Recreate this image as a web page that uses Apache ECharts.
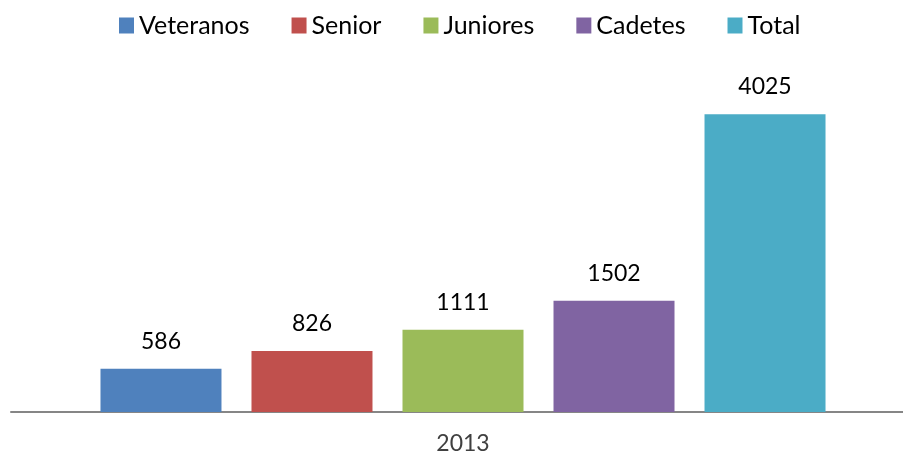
<!DOCTYPE html>
<html>
<head>
<meta charset="utf-8">
<script src="https://cdn.jsdelivr.net/npm/echarts@6/dist/echarts.min.js"></script>
<style>
  html, body { margin: 0; padding: 0; background: #fff; overflow: hidden; }
  #chart { width: 915px; height: 455px; }
</style>
</head>
<body>
<div id="chart"></div>
<script>
// datos
const categories = ["2013"];
const seriesNames = ["Veteranos", "Senior", "Juniores", "Cadetes", "Total"];
const seriesValues = [586, 826, 1111, 1502, 4025];
const colors = ["#4F81BD", "#C0504D", "#9BBB59", "#8064A2", "#4BACC6"];

const font = "Lato, 'Liberation Sans', sans-serif";
const myChart = echarts.init(document.getElementById("chart"));

const option = {
  animation: false,
  color: colors,
  legend: {
    data: seriesNames,
    top: 8,
    left: 114,
    itemWidth: 15,
    itemHeight: 16,
    itemGap: 42,
    icon: "rect",
    textStyle: { fontFamily: font, fontSize: 25, color: "#000" },
  },
  grid: {
    left: 11,
    right: 0,
    top: 79,
    bottom: 43,
  },
  xAxis: {
    type: "category",
    data: categories,
    axisLine: { lineStyle: { color: "#868686", width: 2 } },
    axisTick: { show: false },
    axisLabel: { fontFamily: font, fontSize: 23, color: "#404040", margin: 20 },
  },
  yAxis: {
    type: "value",
    min: 0,
    max: 4500,
    show: false,
    splitLine: { show: false },
  },
  series: seriesNames.map((name, i) => ({
    name: name,
    type: "bar",
    data: [seriesValues[i]],
    barWidth: 121,
    barGap: "24.8%",
    label: {
      show: true,
      position: "top",
      distance: 16,
      fontFamily: font,
      fontSize: 23,
      color: "#000",
    },
  })),
};
myChart.setOption(option);
</script>
</body>
</html>
